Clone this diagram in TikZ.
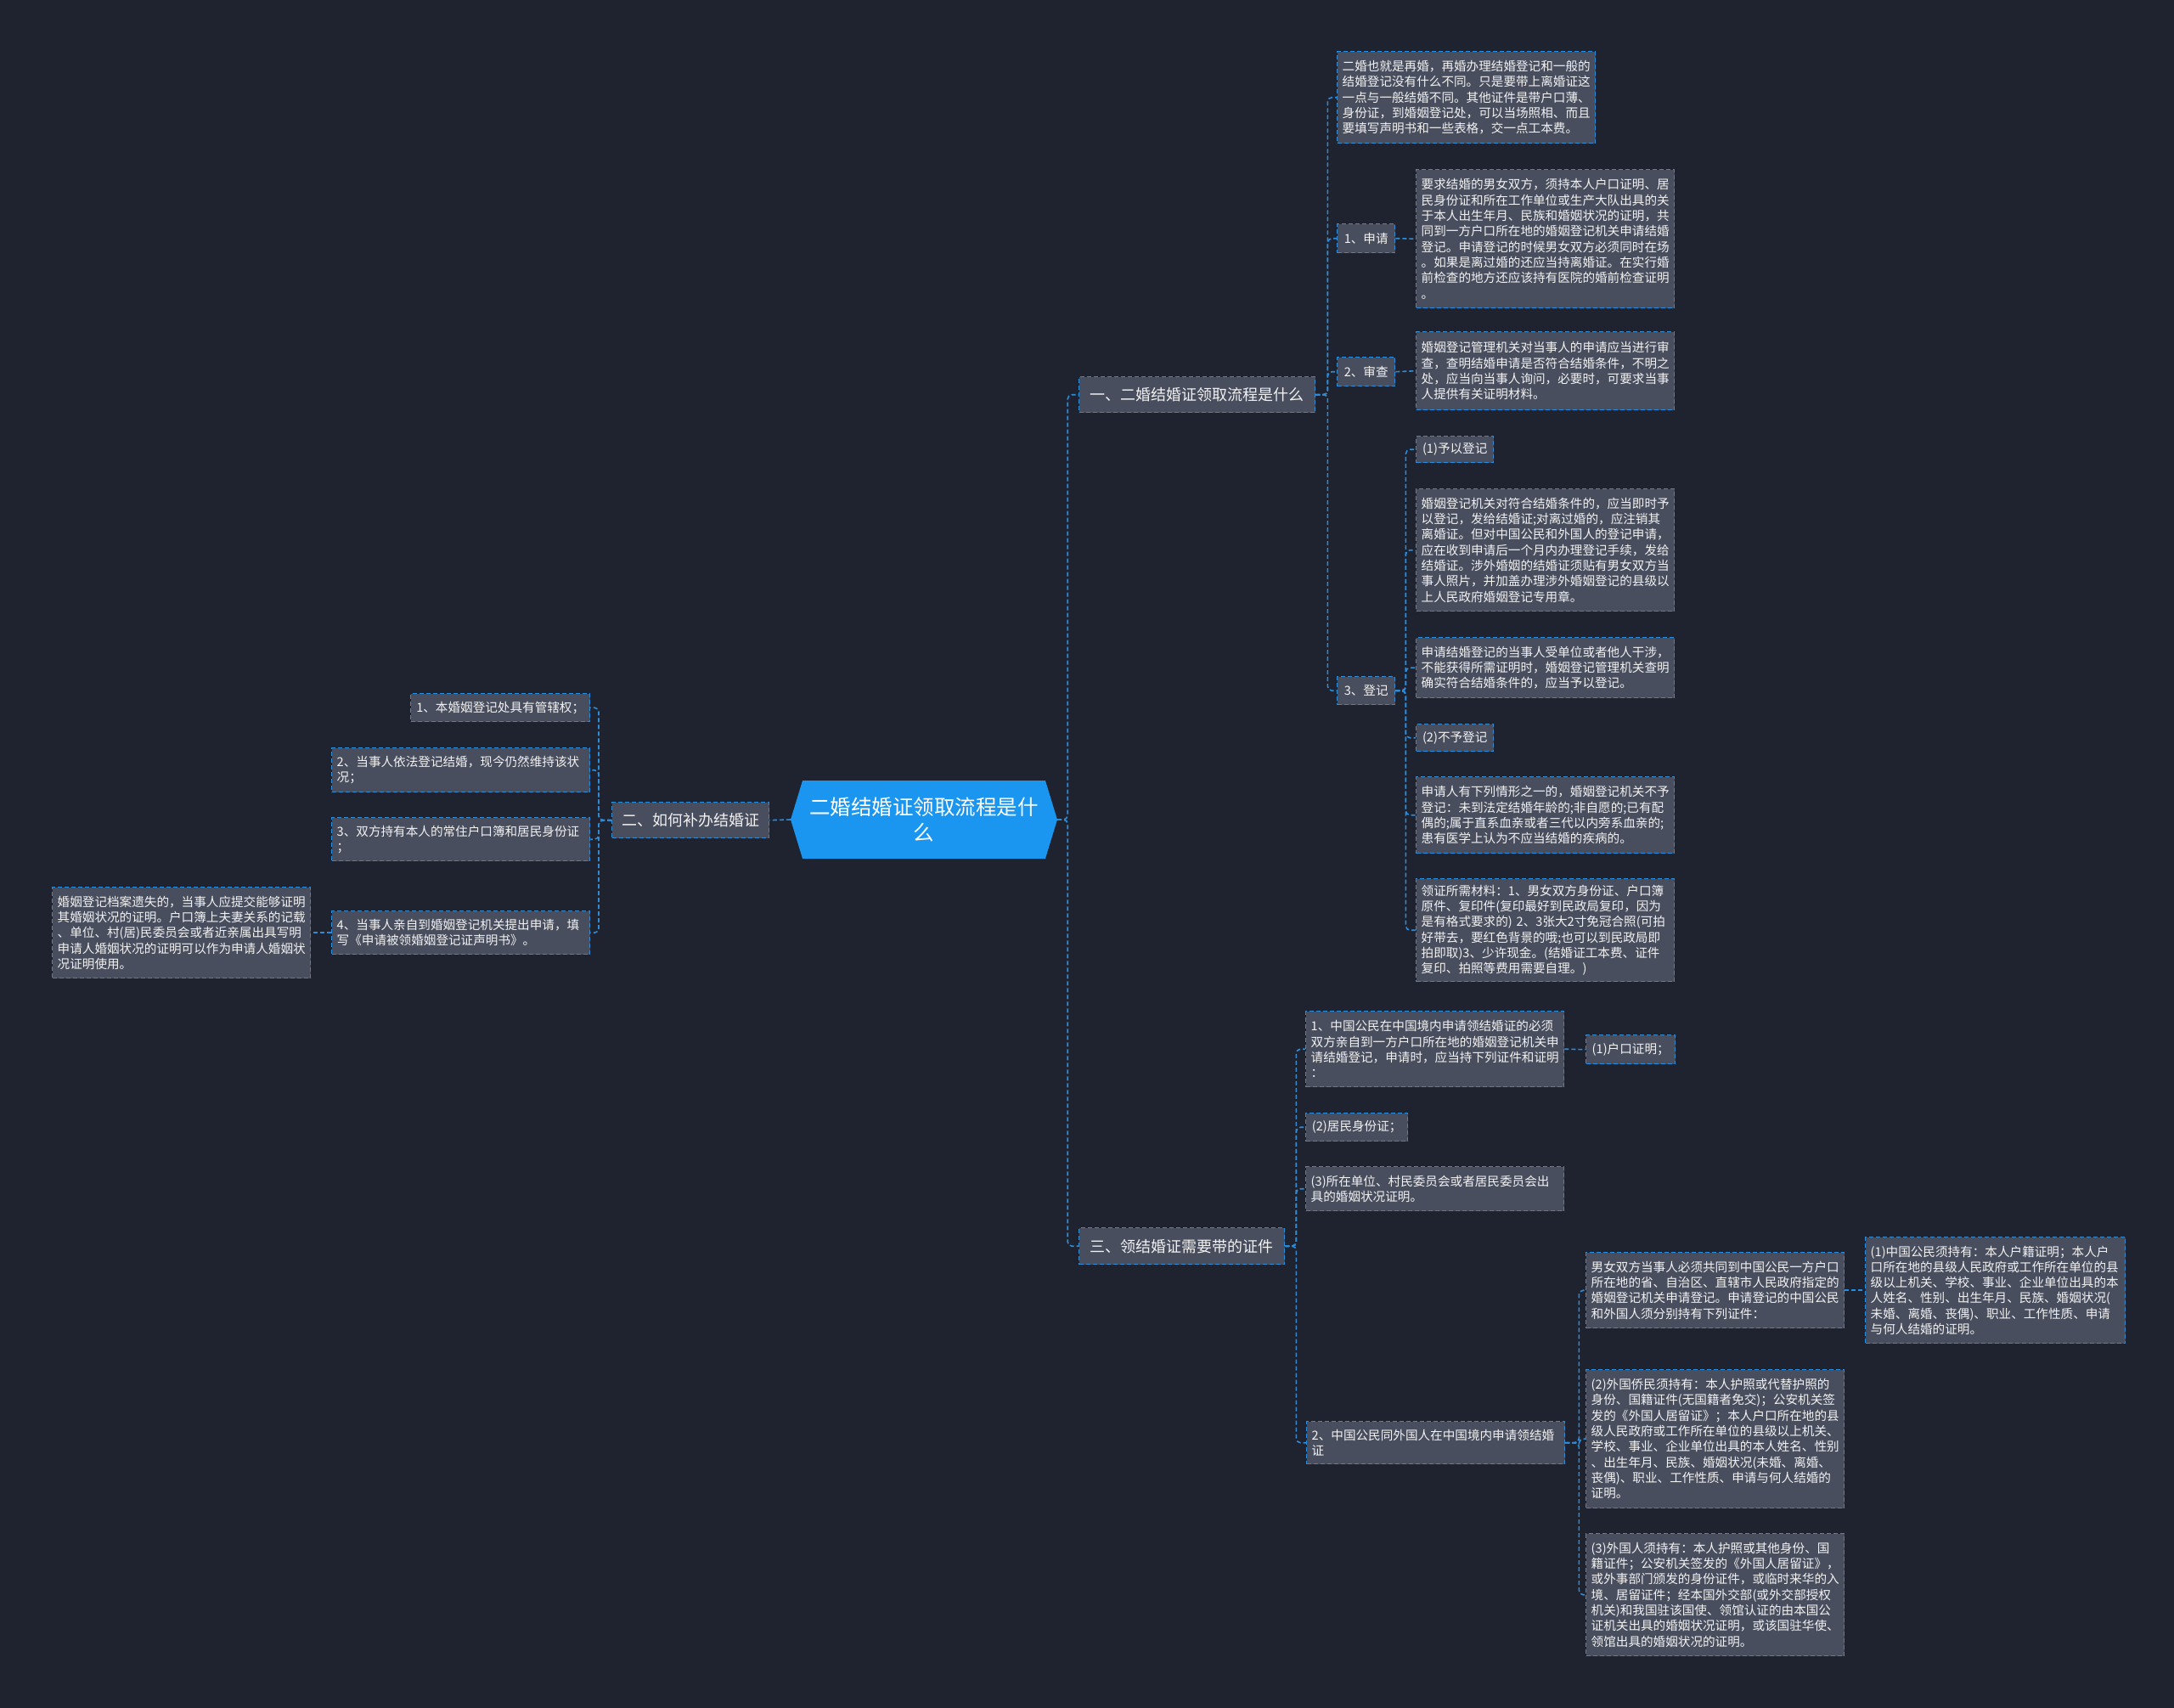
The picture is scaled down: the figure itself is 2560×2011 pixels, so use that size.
\documentclass[tikz,border=0pt]{standalone}
\usepackage{fontspec}
\newfontfamily\cjk{Noto Sans CJK SC}
\usetikzlibrary{shapes.symbols}

\definecolor{pagebg}{HTML}{1F2330}
\definecolor{cardfill}{HTML}{484E5E}
\definecolor{lineblue}{HTML}{2A8DDB}
\definecolor{rootblue}{HTML}{1A96F0}
\definecolor{textwhite}{HTML}{F2F2F2}

\tikzset{
  card/.style={draw=lineblue, dash pattern=on 5pt off 3pt, line width=1.4pt, fill=cardfill,
    text=textwhite, font=\cjk\fontsize{14.6}{18.3}\selectfont, align=left,
    inner xsep=6pt, inner ysep=0pt, anchor=north west},
  branch/.style={card, font=\cjk\fontsize{18}{22}\selectfont, align=center, inner xsep=0pt},
  root/.style={shape=signal, signal to=west and east, signal pointer angle=146, fill=rootblue,
    text=white, font=\cjk\fontsize{24.5}{30}\selectfont, align=center,
    minimum width=314pt, minimum height=92pt, inner sep=0pt},
  link/.style={draw=lineblue, dash pattern=on 5pt off 3pt, line width=1.6pt, rounded corners=5pt},
}

\begin{document}
\begin{tikzpicture}[x=1pt,y=-1pt]
  \useasboundingbox (0,0) rectangle (2560,2011);
  \fill[pagebg] (0,0) rectangle (2560,2011);

  % Root
  \node[root] (root) at (1088,965) {二婚结婚证领取流程是什\\么};

  % Branches
  \node[branch, minimum width=278pt, minimum height=42pt] (b1) at (1270,443) {一、二婚结婚证领取流程是什么};
  \node[branch, minimum width=185pt, minimum height=42pt] (b2) at (720,944) {二、如何补办结婚证};
  \node[branch, minimum width=242pt, minimum height=43pt] (b3) at (1270,1445) {三、领结婚证需要带的证件};

  % Branch 1
  \node[card, text width=292pt, minimum height=108pt] (r0) at (1574,60)
    {二婚也就是再婚，再婚办理结婚登记和一般的\\结婚登记没有什么不同。只是要带上离婚证这\\一点与一般结婚不同。其他证件是带户口薄、\\身份证，到婚姻登记处，可以当场照相、而且\\要填写声明书和一些表格，交一点工本费。};
  \node[card, minimum width=68pt, minimum height=34pt] (r1) at (1574,263) {1、申请};
  \node[card, text width=292pt, minimum height=163pt] (r1a) at (1667,199)
    {要求结婚的男女双方，须持本人户口证明、居\\民身份证和所在工作单位或生产大队出具的关\\于本人出生年月、民族和婚姻状况的证明，共\\同到一方户口所在地的婚姻登记机关申请结婚\\登记。申请登记的时候男女双方必须同时在场\\。如果是离过婚的还应当持离婚证。在实行婚\\前检查的地方还应该持有医院的婚前检查证明\\。};
  \node[card, minimum width=68pt, minimum height=34pt] (r2) at (1574,420) {2、审查};
  \node[card, text width=292pt, minimum height=92pt] (r2a) at (1667,390)
    {婚姻登记管理机关对当事人的申请应当进行审\\查，查明结婚申请是否符合结婚条件，不明之\\处，应当向当事人询问，必要时，可要求当事\\人提供有关证明材料。};
  \node[card, minimum width=68pt, minimum height=33pt] (r3) at (1574,796) {3、登记};
  \node[card, minimum width=91pt, minimum height=31pt] (d1) at (1667,513) {(1)予以登记};
  \node[card, text width=292pt, minimum height=144pt] (d1a) at (1667,575)
    {婚姻登记机关对符合结婚条件的，应当即时予\\以登记，发给结婚证;对离过婚的，应注销其\\离婚证。但对中国公民和外国人的登记申请，\\应在收到申请后一个月内办理登记手续，发给\\结婚证。涉外婚姻的结婚证须贴有男女双方当\\事人照片，并加盖办理涉外婚姻登记的县级以\\上人民政府婚姻登记专用章。};
  \node[card, text width=292pt, minimum height=71pt] (d1b) at (1667,750)
    {申请结婚登记的当事人受单位或者他人干涉，\\不能获得所需证明时，婚姻登记管理机关查明\\确实符合结婚条件的，应当予以登记。};
  \node[card, minimum width=91pt, minimum height=32pt] (d2) at (1667,852) {(2)不予登记};
  \node[card, text width=292pt, minimum height=90pt] (d2a) at (1667,914)
    {申请人有下列情形之一的，婚姻登记机关不予\\登记：未到法定结婚年龄的;非自愿的;已有配\\偶的;属于直系血亲或者三代以内旁系血亲的;\\患有医学上认为不应当结婚的疾病的。};
  \node[card, text width=292pt, minimum height=121pt] (d2b) at (1667,1034)
    {领证所需材料：1、男女双方身份证、户口簿\\原件、复印件(复印最好到民政局复印，因为\\是有格式要求的) 2、3张大2寸免冠合照(可拍\\好带去，要红色背景的哦;也可以到民政局即\\拍即取)3、少许现金。(结婚证工本费、证件\\复印、拍照等费用需要自理。)};

  % Branch 2
  \node[card, minimum width=211pt, minimum height=33pt] (l1) at (483,816) {1、本婚姻登记处具有管辖权；};
  \node[card, text width=292pt, minimum height=52pt] (l2) at (390,880)
    {2、当事人依法登记结婚，现今仍然维持该状\\况；};
  \node[card, text width=292pt, minimum height=51pt] (l3) at (390,962)
    {3、双方持有本人的常住户口簿和居民身份证\\；};
  \node[card, text width=292pt, minimum height=51pt] (l4) at (390,1072)
    {4、当事人亲自到婚姻登记机关提出申请，填\\写《申请被领婚姻登记证声明书》。};
  \node[card, text width=292pt, minimum height=107pt] (l4a) at (61,1044)
    {婚姻登记档案遗失的，当事人应提交能够证明\\其婚姻状况的证明。户口簿上夫妻关系的记载\\、单位、村(居)民委员会或者近亲属出具写明\\申请人婚姻状况的证明可以作为申请人婚姻状\\况证明使用。};

  % Branch 3
  \node[card, text width=292pt, minimum height=89pt] (t1) at (1537,1190)
    {1、中国公民在中国境内申请领结婚证的必须\\双方亲自到一方户口所在地的婚姻登记机关申\\请结婚登记，申请时，应当持下列证件和证明\\：};
  \node[card, minimum width=105pt, minimum height=34pt] (t1a) at (1867,1218) {(1)户口证明；};
  \node[card, minimum width=120pt, minimum height=33pt] (t2) at (1537,1310) {(2)居民身份证；};
  \node[card, text width=292pt, minimum height=52pt] (t3) at (1537,1373)
    {(3)所在单位、村民委员会或者居民委员会出\\具的婚姻状况证明。};
  \node[card, text width=292pt, minimum height=50pt] (t4) at (1538,1673)
    {2、中国公民同外国人在中国境内申请领结婚\\证};
  \node[card, text width=292pt, minimum height=89pt] (u1) at (1867,1474)
    {男女双方当事人必须共同到中国公民一方户口\\所在地的省、自治区、直辖市人民政府指定的\\婚姻登记机关申请登记。申请登记的中国公民\\和外国人须分别持有下列证件：};
  \node[card, text width=294pt, minimum height=125pt] (u1a) at (2196,1456)
    {(1)中国公民须持有：本人户籍证明；本人户\\口所在地的县级人民政府或工作所在单位的县\\级以上机关、学校、事业、企业单位出具的本\\人姓名、性别、出生年月、民族、婚姻状况(\\未婚、离婚、丧偶)、职业、工作性质、申请\\与何人结婚的证明。};
  \node[card, text width=292pt, minimum height=163pt] (u2) at (1867,1612)
    {(2)外国侨民须持有：本人护照或代替护照的\\身份、国籍证件(无国籍者免交)；公安机关签\\发的《外国人居留证》；本人户口所在地的县\\级人民政府或工作所在单位的县级以上机关、\\学校、事业、企业单位出具的本人姓名、性别\\、出生年月、民族、婚姻状况(未婚、离婚、\\丧偶)、职业、工作性质、申请与何人结婚的\\证明。};
  \node[card, text width=292pt, minimum height=144pt] (u3) at (1867,1805)
    {(3)外国人须持有：本人护照或其他身份、国\\籍证件；公安机关签发的《外国人居留证》，\\或外事部门颁发的身份证件，或临时来华的入\\境、居留证件；经本国外交部(或外交部授权\\机关)和我国驻该国使、领馆认证的由本国公\\证机关出具的婚姻状况证明，或该国驻华使、\\领馆出具的婚姻状况的证明。};

  % Links
  \draw[link] (root.east) -- ++(12,0) |- (b1.west);
  \draw[link] (root.east) -- ++(12,0) |- (b3.west);
  \draw[link] (root.west) -- (b2.east);
  \foreach \n in {r0,r1,r2,r3}
    \draw[link] (b1.east) -- ++(14,0) |- (\n.west);
  \draw[link] (r1.east) -- (r1a.west);
  \draw[link] (r2.east) -- (r2a.west);
  \foreach \n in {d1,d1a,d1b,d2,d2a,d2b}
    \draw[link] (r3.east) -- ++(12,0) |- (\n.west);
  \foreach \n in {l1,l2,l3,l4}
    \draw[link] (b2.west) -- ++(-15,0) |- (\n.east);
  \draw[link] (l4.west) -- (l4a.east);
  \foreach \n in {t1,t2,t3,t4}
    \draw[link] (b3.east) -- ++(13,0) |- (\n.west);
  \draw[link] (t1.east) -- (t1a.west);
  \foreach \n in {u1,u2,u3}
    \draw[link] (t4.east) -- ++(16,0) |- (\n.west);
  \draw[link] (u1.east) -- (u1a.west);
\end{tikzpicture}
\end{document}
